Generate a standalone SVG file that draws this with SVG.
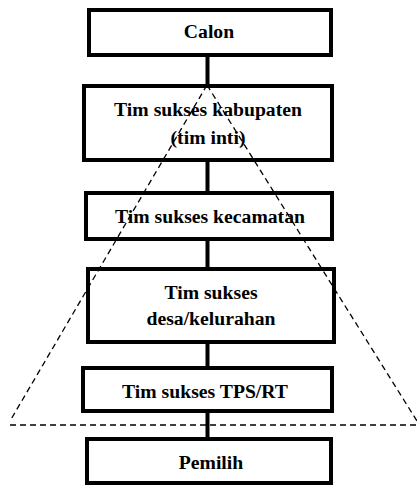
<svg xmlns="http://www.w3.org/2000/svg" width="417" height="485" viewBox="0 0 417 485">
<style>
.box{fill:#fff;stroke:#000;stroke-width:4}
.t{font-family:"Liberation Serif","Times New Roman",serif;font-weight:bold;font-size:19.7px;fill:#000;text-anchor:middle}
.c{stroke:#000;stroke-width:4;fill:none}
.d{stroke:#000;stroke-width:1.3;fill:none;stroke-dasharray:6 4}
</style>
<rect width="417" height="485" fill="#fff"/>
<g id="connectors">
<line class="c" x1="207.5" y1="55" x2="207.5" y2="85"/>
<line class="c" x1="207.5" y1="160" x2="207.5" y2="192"/>
<line class="c" x1="207.5" y1="239" x2="207.5" y2="268"/>
<line class="c" x1="207.5" y1="342" x2="207.5" y2="367"/>
<line class="c" x1="207.5" y1="411" x2="207.5" y2="438"/>
</g>
<g id="calon"><rect class="box" x="89" y="10" width="242" height="45"/><text class="t" x="209" y="38">Calon</text></g>
<g id="kabupaten"><rect class="box" x="84" y="86" width="248" height="74"/><text class="t" x="208" y="116">Tim sukses kabupaten</text><text class="t" x="208" y="144">(tim inti)</text></g>
<g id="kecamatan"><rect class="box" x="86" y="193" width="246" height="46"/><text class="t" x="210" y="223">Tim sukses kecamatan</text></g>
<g id="desa"><rect class="box" x="88" y="269" width="246" height="73"/><text class="t" x="211" y="299">Tim sukses</text><text class="t" x="211" y="325">desa/kelurahan</text></g>
<g id="tps"><rect class="box" x="83" y="368" width="249" height="43"/><text class="t" x="205" y="398">Tim sukses TPS/RT</text></g>
<g id="pemilih"><rect class="box" x="87" y="439" width="244" height="44"/><text class="t" x="211" y="469">Pemilih</text></g>
<g id="pyramid">
<line class="d" x1="207" y1="85" x2="10" y2="421"/>
<line class="d" x1="207" y1="85" x2="417" y2="421"/>
<line class="d" x1="10" y1="425" x2="417" y2="425"/>
</g>
</svg>
